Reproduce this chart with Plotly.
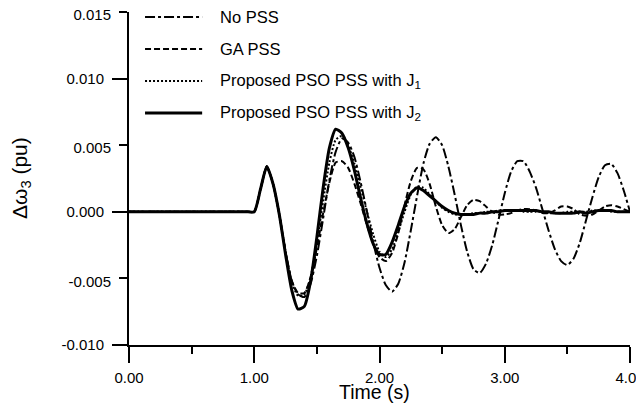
import plotly.graph_objects as go

# ---------------- data ----------------
time_s = [0.00, 0.50, 0.95,
          1.00, 1.05, 1.10, 1.15, 1.20, 1.25, 1.30, 1.35, 1.40, 1.45,
          1.50, 1.55, 1.60, 1.65, 1.70, 1.75, 1.80, 1.85, 1.90, 1.95,
          2.00, 2.05, 2.10, 2.15, 2.20, 2.25, 2.30, 2.35, 2.40, 2.45,
          2.50, 2.55, 2.60, 2.65, 2.70, 2.75, 2.80, 2.85, 2.90, 2.95,
          3.00, 3.05, 3.10, 3.15, 3.20, 3.25, 3.30, 3.35, 3.40, 3.45,
          3.50, 3.55, 3.60, 3.65, 3.70, 3.75, 3.80, 3.85, 3.90, 3.95,
          4.00]

no_pss = [0, 0, 0,
          0, .0017, .0034, .0021, -.0002, -.0030, -.0052, -.0062, -.0064, -.0054,
          -.0033, -.0005, .0024, .0045, .0055, .0052, .0041, .0022, .0000, -.0023,
          -.0042, -.0055, -.0060, -.0054, -.0038, -.0014, .0012, .0036, .0051, .0056,
          .0050, .0034, .0013, -.0010, -.0030, -.0043, -.0046, -.0039, -.0025, -.0006,
          .0014, .0030, .0038, .0038, .0030, .0018, .0002, -.0014, -.0028, -.0037,
          -.0040, -.0035, -.0023, -.0006, .0011, .0026, .0035, .0036, .0029, .0016,
          .0000]

ga_pss = [0, 0, 0,
          0, .0017, .0034, .0021, -.0002, -.0030, -.0052, -.0061, -.0061, -.0049,
          -.0027, -.0001, .0022, .0037, .0038, .0033, .0021, .0006, -.0010, -.0024,
          -.0034, -.0037, -.0031, -.0016, .0005, .0023, .0033, .0032, .0021, .0004,
          -.0010, -.0016, -.0013, -.0004, .0005, .0009, .0008, .0004, .0000, -.0002,
          -.0002, -.0001, .0001, .0002, .0002, .0001, -.0001, -.0001, .0001, .0004,
          .0004, .0002, -.0002, -.0003, -.0002, .0001, .0004, .0005, .0004, .0002,
          .0000]

pso_j1 = [0, 0, 0,
          0, .0017, .0034, .0021, -.0002, -.0030, -.0053, -.0063, -.0062, -.0049,
          -.0023, .0008, .0037, .0054, .0057, .0050, .0036, .0018, .0000, -.0017,
          -.0030, -.0034, -.0028, -.0015, .0000, .0013, .0019, .0018, .0013, .0008,
          .0003, .0000, -.0002, -.0002, -.0002, -.0001, -.0001, .0000, .0000, .0001,
          .0001, .0001, .0001, .0000, .0000, .0000, .0000, -.0001, -.0001, -.0001,
          .0000, .0000, .0000, .0000, .0001, .0001, .0001, .0000, .0000, .0000,
          .0000]

pso_j2 = [0, 0, 0,
          0, .0017, .0034, .0021, -.0002, -.0032, -.0059, -.0073, -.0071, -.0052,
          -.0019, .0018, .0048, .0062, .0059, .0048, .0031, .0010, -.0009, -.0024,
          -.0032, -.0032, -.0023, -.0010, .0004, .0014, .0018, .0016, .0012, .0008,
          .0004, .0001, -.0001, -.0002, -.0002, -.0002, -.0001, -.0001, .0000, .0000,
          .0001, .0001, .0001, .0001, .0001, .0001, .0000, .0000, -.0001, -.0001,
          -.0001, -.0001, .0000, -.0001, .0000, .0001, .0001, .0001, .0000, .0000,
          .0000]

series_names = ["No PSS", "GA PSS",
                "Proposed PSO PSS with J<sub>1</sub>",
                "Proposed PSO PSS with J<sub>2</sub>"]

x_tickvals = [0, 1, 2, 3, 4]
x_ticktext = ["0.00", "1.00", "2.00", "3.00", "4.00"]
y_short_vals = [0.015, 0.005, -0.005]
y_short_text = ["0.015", "0.005", "-0.005"]
y_long_vals = [0.010, 0.000, -0.010]
y_long_text = ["0.010", "0.000", "-0.010"]

# ---------------- styles ----------------
FONT = "Liberation Sans, Arial, sans-serif"
styles = [
    dict(dash="10px,3px,3px,3px", width=2),
    dict(dash="6px,3px", width=2),
    dict(dash="2px,2px", width=2),
    dict(dash="solid", width=3),
]
axes_for = ["y2", "y", "y", "y"]

fig = go.Figure()
for name, ys, st, ax in zip(series_names, [no_pss, ga_pss, pso_j1, pso_j2],
                            styles, axes_for):
    fig.add_trace(go.Scatter(
        x=time_s, y=ys, mode="lines", name=name, yaxis=ax,
        line=dict(color="black", width=st["width"], dash=st["dash"],
                  shape="spline", smoothing=0.6),
        showlegend=False, hoverinfo="skip"))

# manual legend (longer line samples like the reference)
legend_y = [0.985, 0.889, 0.793, 0.697]
for name, st, ly in zip(series_names, styles, legend_y):
    fig.add_shape(type="line", xref="paper", yref="paper",
                  x0=0.032, x1=0.146, y0=ly, y1=ly,
                  line=dict(color="black", width=st["width"], dash=st["dash"]))
    fig.add_annotation(xref="paper", yref="paper", x=0.178, y=ly,
                       text=name, showarrow=False, xanchor="left",
                       yanchor="middle",
                       font=dict(family=FONT, size=16.5, color="black"))

# axis titles
fig.add_annotation(xref="paper", yref="paper", x=0.49, y=-0.141,
                   text="Time (s)", showarrow=False, xanchor="center",
                   yanchor="middle", font=dict(family=FONT, size=19.5, color="black"))
fig.add_annotation(xref="paper", yref="paper", x=-0.2465, y=0.5,
                   text="Δω<sub>3</sub> (pu)", showarrow=False, textangle=-90,
                   xanchor="left", yanchor="middle",
                   font=dict(family=FONT, size=21, color="black"))

tickfont = dict(family=FONT, size=15, color="black")
fig.update_layout(
    template="none",
    width=644, height=412, autosize=False,
    # page body adds an 8px offset; margins compensate so the plot lands
    # at x 129..630, y 12..345 in the window
    margin=dict(l=121, r=22, t=4, b=75, pad=0),
    paper_bgcolor="white", plot_bgcolor="white",
    xaxis=dict(range=[0, 4], tickvals=x_tickvals, ticktext=x_ticktext,
               ticks="outside", ticklen=16, tickwidth=2, tickcolor="black",
               showline=True, linewidth=2, linecolor="black", automargin=False,
               showgrid=False, zeroline=False, tickfont=tickfont,
               ticklabelstandoff=2, ticklabeloverflow="allow",
               minor=dict(dtick=0.5, ticks="outside", ticklen=7,
                          tickwidth=2, tickcolor="black", showgrid=False)),
    yaxis=dict(range=[-0.010, 0.015], tickvals=y_short_vals,
               ticktext=y_short_text, ticks="outside", ticklen=8,
               tickwidth=2, tickcolor="black", showline=True, linewidth=2,
               linecolor="black", showgrid=False, zeroline=False,
               automargin=False, tickfont=tickfont, ticklabelstandoff=5,
               ticklabelshift=3, ticklabeloverflow="allow"),
    yaxis2=dict(range=[-0.010, 0.015], overlaying="y", side="left",
                anchor="x", tickvals=y_long_vals, ticktext=y_long_text,
                ticks="outside", ticklen=16, tickwidth=2, tickcolor="black",
                showline=False, showgrid=False, zeroline=False,
                automargin=False, tickfont=tickfont, ticklabelstandoff=5,
                ticklabeloverflow="allow"),
    showlegend=False,
)

fig.write_html("out.html")
